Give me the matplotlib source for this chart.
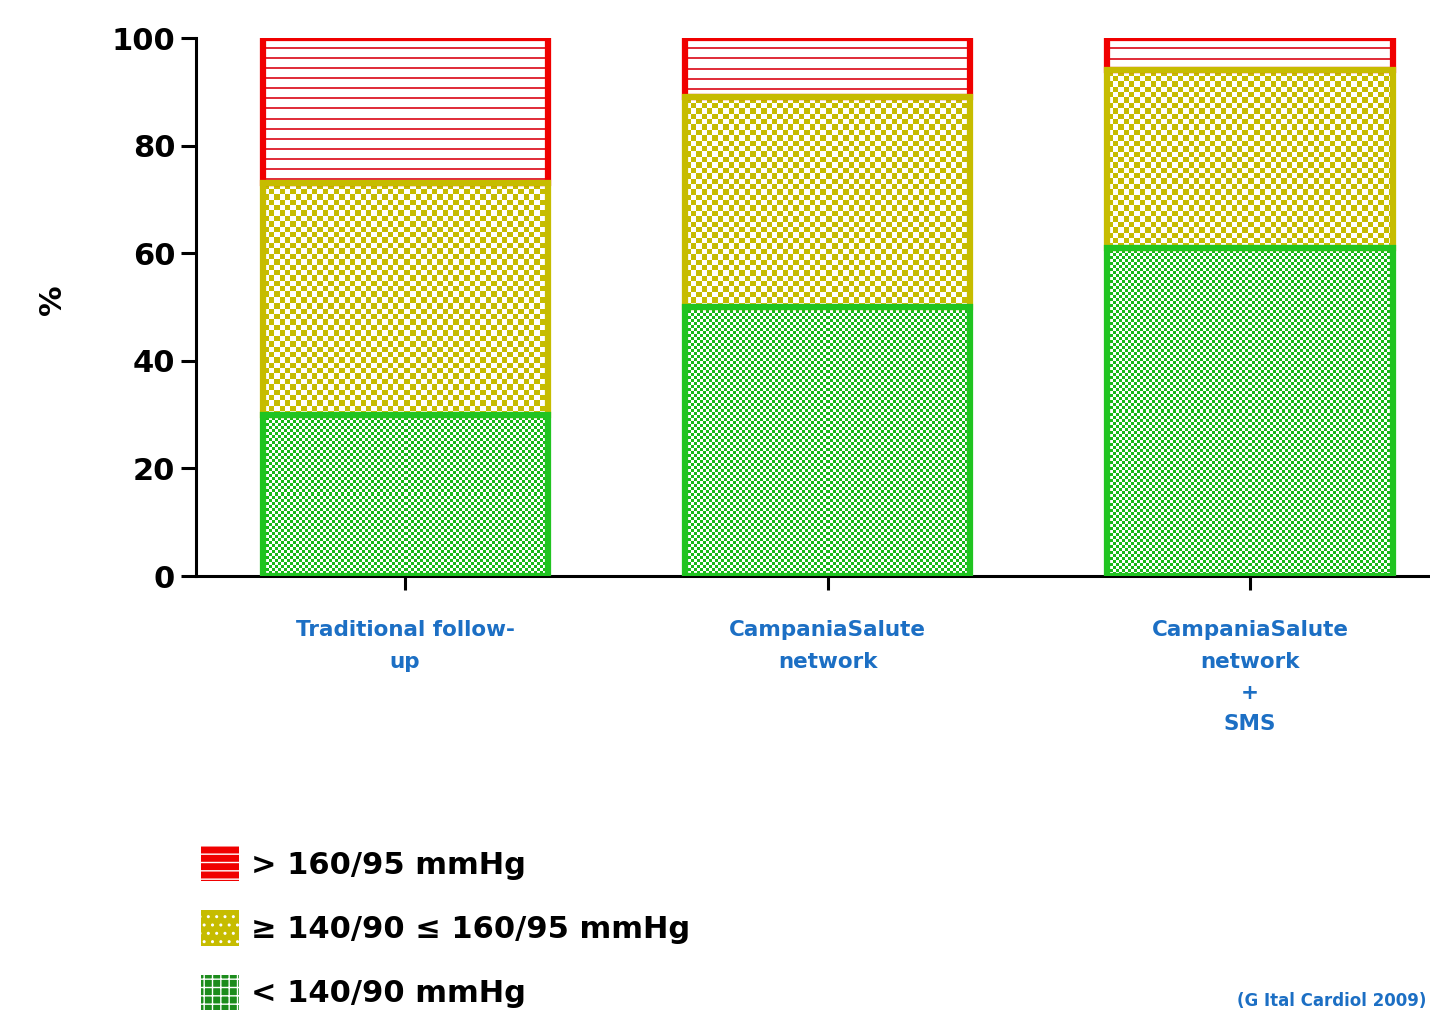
import numpy as np
import matplotlib
matplotlib.use("Agg")
import matplotlib.pyplot as plt
from matplotlib.colors import to_rgb
from matplotlib.patches import Patch

# ---- data -------------------------------------------------------------
groups = ["Traditional follow-\nup",
          "CampaniaSalute\nnetwork",
          "CampaniaSalute\nnetwork\n+\nSMS"]
controlled = [30, 50, 61]          # < 140/90 mmHg
intermediate = [43, 39, 33]        # >= 140/90 <= 160/95 mmHg
uncontrolled = [27, 11, 6]         # > 160/95 mmHg
series_labels = ["> 160/95 mmHg", "\u2265 140/90 \u2264 160/95 mmHg", "< 140/90 mmHg"]
yticks = [0, 20, 40, 60, 80, 100]

# ---- style ------------------------------------------------------------
RED = "#F00000"
YELLOW = "#C6BC00"
GREEN = "#20C420"
DARK_GREEN = "#1C8C1C"
BLUE = "#1C6FC4"

W, H = 1430, 1014
fig = plt.figure(figsize=(W / 100, H / 100), dpi=100)
ax = fig.add_axes([196 / W, 1 - 576 / H, 1 - 196 / W, (576 - 38) / H])

x = np.arange(len(groups))
XLIM = (-0.495, 2.426)
YLIM = (0, 100)
ax.set_xlim(*XLIM)
ax.set_ylim(*YLIM)

bar_w = 0.675
bottom2 = np.array(controlled) + np.array(intermediate)
b_green = ax.bar(x, controlled, bar_w, facecolor="none", edgecolor=GREEN,
                 linewidth=4.5, zorder=5)
b_yellow = ax.bar(x, intermediate, bar_w, bottom=controlled, facecolor="none",
                  edgecolor=YELLOW, linewidth=4.5, zorder=4)
b_red = ax.bar(x, uncontrolled, bar_w, bottom=bottom2, facecolor="none",
               edgecolor=RED, linewidth=4.5, zorder=3)


def checker(h, w, cell, color):
    yy, xx = np.mgrid[0:h, 0:w]
    mask = ((np.floor(xx / cell) + np.floor(yy / cell)) % 2) == 0
    img = np.ones((h, w, 3))
    img[mask] = to_rgb(color)
    return img


def stripes(h, w, period, thick, color):
    yy, xx = np.mgrid[0:h, 0:w]
    mask = (yy % period) < thick
    img = np.ones((h, w, 3))
    img[mask] = to_rgb(color)
    return img


def fill_texture(container, maker, zorder):
    for patch in container.patches:
        bb = patch.get_window_extent()
        w = max(int(round(bb.width)), 1)
        h = max(int(round(bb.height)), 1)
        x0, y0 = patch.get_x(), patch.get_y()
        img = maker(h, w)
        im = ax.imshow(img, extent=(x0, x0 + patch.get_width(), y0, y0 + patch.get_height()),
                       origin="upper", aspect="auto", interpolation="nearest", zorder=zorder)
        im.set_clip_path(patch)


fill_texture(b_green, lambda h, w: checker(h, w, 3.0, "#18B818"), 2)
fill_texture(b_yellow, lambda h, w: checker(h, w, 5.4, YELLOW), 2)
fill_texture(b_red, lambda h, w: stripes(h, w, 10, 2, "#E0303C"), 2)
ax.set_xlim(*XLIM)
ax.set_ylim(*YLIM)

# ---- axes -------------------------------------------------------------
for side in ("top", "right"):
    ax.spines[side].set_visible(False)
for side in ("left", "bottom"):
    ax.spines[side].set_linewidth(2.2)
ax.set_yticks(yticks)
ax.set_yticklabels([str(v) for v in yticks], fontsize=22, fontweight="bold",
                   family="DejaVu Sans")
ax.tick_params(axis="y", length=11, width=2.2, pad=4)
ax.set_xticks(x)
ax.set_xticklabels(groups, fontsize=15.5, fontweight="bold", color=BLUE,
                   family="DejaVu Sans")
ax.tick_params(axis="x", length=10, width=2.2, pad=22)
for lab in ax.get_xticklabels():
    lab.set_linespacing(1.7)

fig.text(52 / W, 1 - 300 / H, "%", rotation=90, fontsize=22, fontweight="bold",
         ha="center", va="center")

# ---- legend -----------------------------------------------------------
handles = [
    Patch(facecolor=RED, edgecolor="white", hatch="--", linewidth=0),
    Patch(facecolor=YELLOW, edgecolor="white", hatch="..", linewidth=0),
    Patch(facecolor=DARK_GREEN, edgecolor="white", hatch="++", linewidth=0),
]
fig.legend(handles, series_labels, loc="upper left",
           bbox_to_anchor=(201 / W, 1 - 846 / H), frameon=False,
           prop={"family": "DejaVu Sans", "weight": "bold", "size": 22},
           handlelength=1.25, handleheight=1.4, handletextpad=0.4,
           labelspacing=0.95, borderpad=0, borderaxespad=0)

fig.text(1426 / W, 1 - 1001 / H, "(G Ital Cardiol 2009)", color=BLUE,
         fontsize=12, fontweight="bold", va="center", ha="right")

fig.savefig("out.png", dpi=100)
